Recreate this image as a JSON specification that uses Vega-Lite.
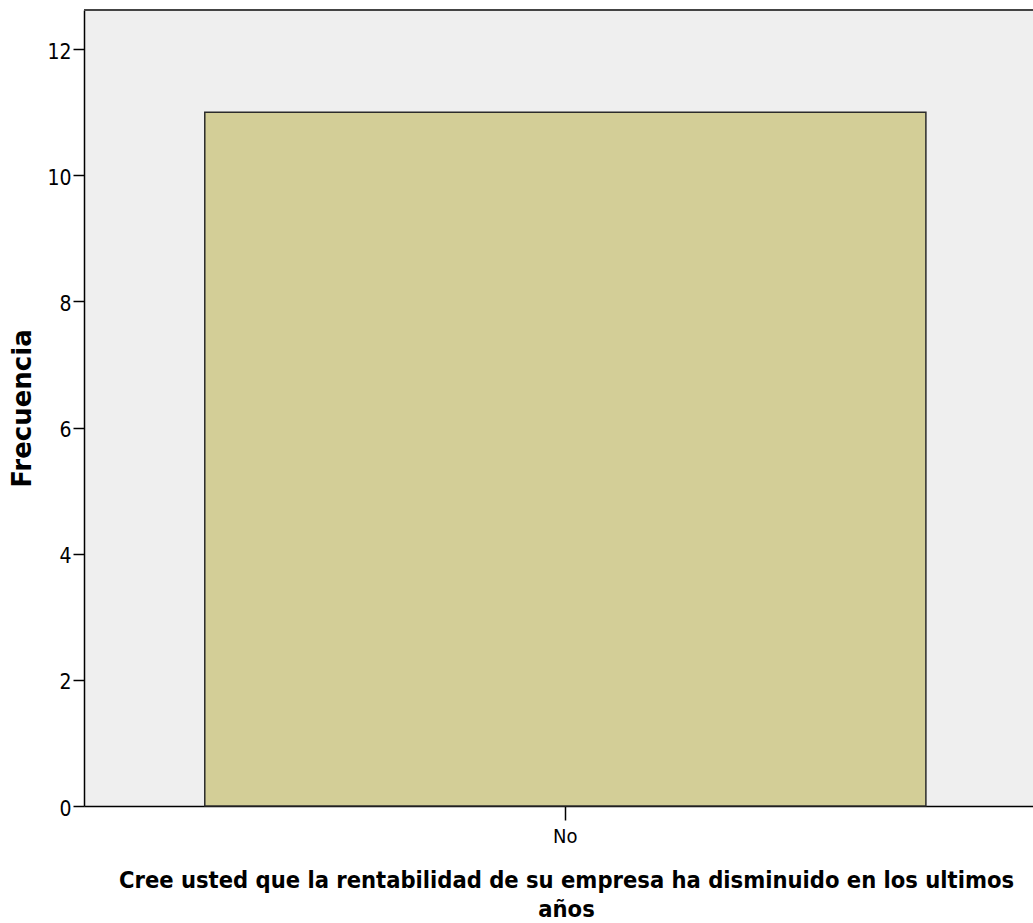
{
  "$schema": "https://vega.github.io/schema/vega-lite/v6.json",
  "autosize": {"type": "none"},
  "padding": {"left": 84, "top": 10, "right": 0, "bottom": 117},
  "width": 949,
  "height": 796,
  "background": "#ffffff",
  "config": {
    "view": {"fill": "#EFEFEF", "stroke": null},
    "axis": {"grid": false, "domainColor": "#000000", "tickColor": "#000000", "labelColor": "#000000", "titleColor": "#000000", "domainWidth": 1.5, "tickWidth": 1.5}
  },
  "data": {"values": [{"respuesta": "No", "frecuencia": 11}]},
  "layer": [
    {
      "mark": {"type": "bar", "fill": "#D3CE97", "stroke": "#2b2b2b", "strokeWidth": 1.5},
      "encoding": {
        "x": {
          "field": "respuesta", "type": "nominal",
          "scale": {"paddingInner": 0, "paddingOuter": 0.158, "align": 0.53},
          "axis": {
            "title": ["Cree usted que la rentabilidad de su empresa ha disminuido en los ultimos", "años"],
            "titleFont": "DejaVu Sans Condensed", "titleFontWeight": "bold", "titleFontSize": 23.5, "titleLineHeight": 29,
            "titlePadding": 22, "titleX": 482,
            "labelAngle": 0, "labelFont": "DejaVu Sans Condensed", "labelFontSize": 20, "labelPadding": 6,
            "tickSize": 14
          }
        },
        "y": {
          "field": "frecuencia", "type": "quantitative",
          "scale": {"domain": [0, 12.62], "nice": false, "zero": true},
          "axis": {
            "values": [0, 2, 4, 6, 8, 10, 12], "format": "d",
            "title": "Frecuencia", "titleFont": "DejaVu Sans", "titleFontWeight": "bold", "titleFontSize": 26,
            "titlePadding": 11,
            "labelFont": "DejaVu Sans Condensed", "labelFontSize": 21, "labelPadding": 2, "labelOffset": 3,
            "tickSize": 11
          }
        }
      }
    },
    {
      "mark": {"type": "rule", "color": "#444444", "strokeWidth": 2},
      "encoding": {"y": {"datum": 12.62, "type": "quantitative"}}
    }
  ]
}
